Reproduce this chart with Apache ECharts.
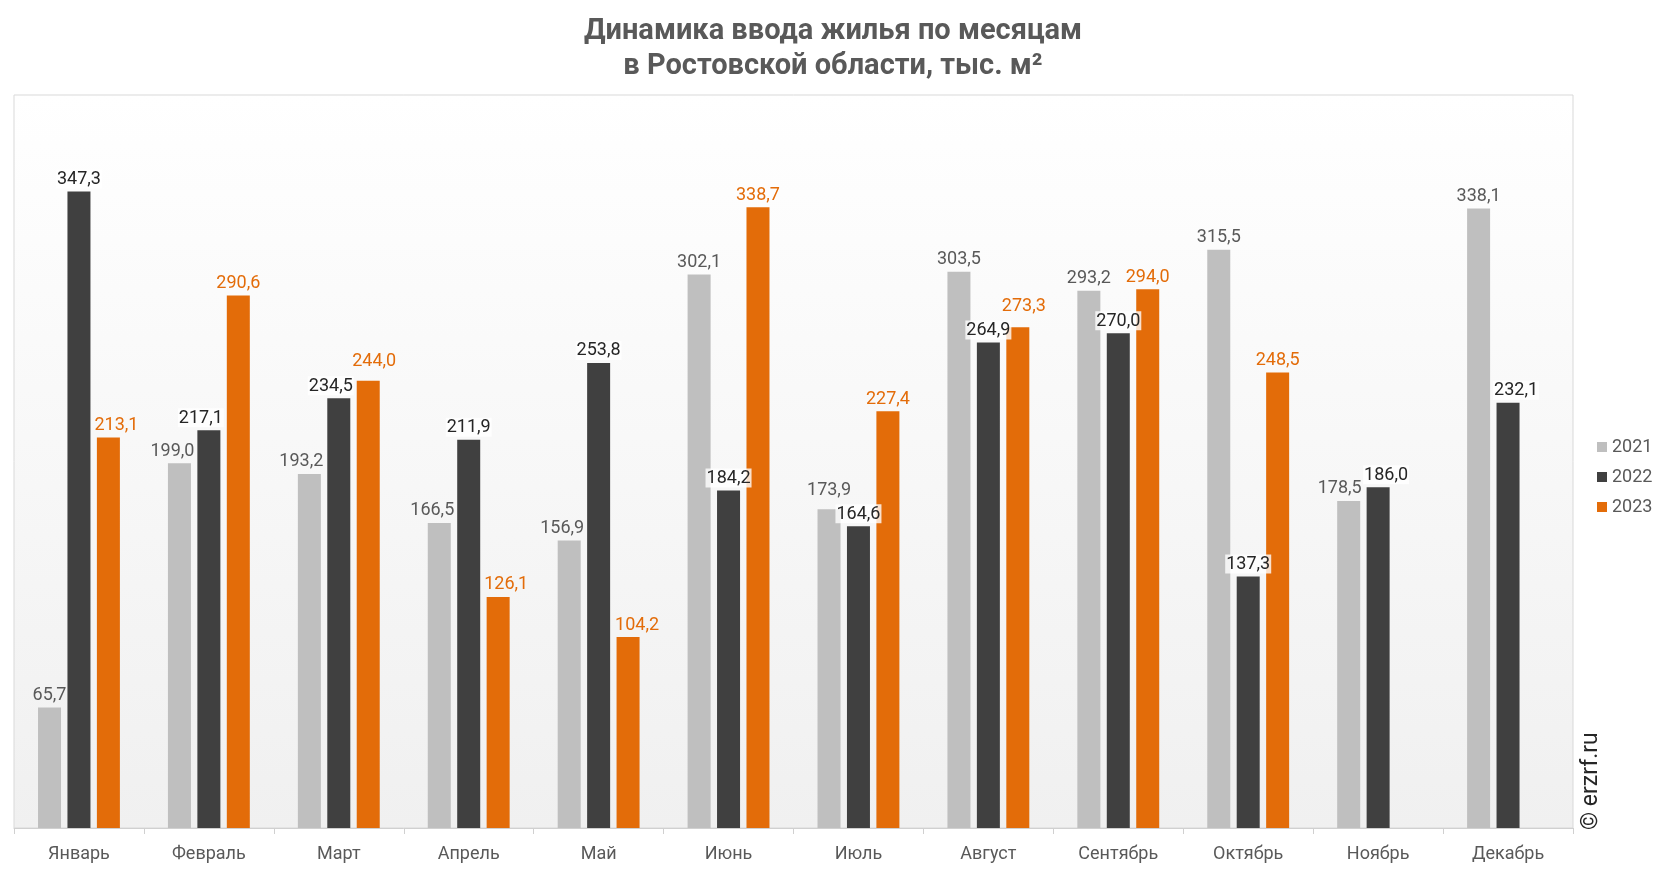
<!DOCTYPE html>
<html>
<head>
<meta charset="utf-8">
<script src="https://cdn.jsdelivr.net/npm/echarts@6/dist/echarts.min.js"></script>
<style>
  html, body { margin: 0; padding: 0; background: #fff; }
  #chart { width: 1666px; height: 872px; }
</style>
</head>
<body>
<div id="chart"></div>
<script>
  // месяцы и значения, тыс. м²
  const months = ['Январь', 'Февраль', 'Март', 'Апрель', 'Май', 'Июнь', 'Июль', 'Август', 'Сентябрь', 'Октябрь', 'Ноябрь', 'Декабрь']
  const years = ['2021', '2022', '2023']
  const data2021 = [65.7, 199.0, 193.2, 166.5, 156.9, 302.1, 173.9, 303.5, 293.2, 315.5, 178.5, 338.1]
  const data2022 = [347.3, 217.1, 234.5, 211.9, 253.8, 184.2, 164.6, 264.9, 270.0, 137.3, 186.0, 232.1]
  const data2023 = [213.1, 290.6, 244.0, 126.1, 104.2, 338.7, 227.4, 273.3, 294.0, 248.5, null, null]

  // ручные сдвиги подписей (как в исходнике), [dx, dy] в пикселях
  const nudge2021 = [[0, 0], [-7, 0], [-8, 0], [-7, 0], [-7, 0], [0, 0], [0, -7], [0, 0], [0, 0], [0, 0], [-9, 0], [0, 0]]
  const nudge2022 = [[0, 0], [-8, 0], [-8, 0], [0, 0], [0, 0], [0, 0], [0, 0], [0, 0], [0, 0], [0, 0], [8, 0], [8, 0]]
  const nudge2023 = [[8, 0], [0, 0], [6, -7], [8, 0], [9, 0], [0, 0], [0, 0], [6, -9], [0, 0], [0, 0], [0, 0], [0, 0]]

  const barColors = ['#bfbfbf', '#404040', '#e36c09']
  const labelColors = ['#595959', '#262626', '#e36c09']
  const font = 'Roboto, "Noto Sans", sans-serif'

  const fmt = p => p.value == null ? '' : p.value.toFixed(1).replace('.', ',')

  const makeSeries = (name, values, nudges, i, z) => ({
    name: name,
    type: 'bar',
    z: z,
    data: values,
    barWidth: 23,
    barGap: '28%',
    itemStyle: { color: barColors[i] },
    label: {
      show: true,
      position: 'top',
      distance: 3,
      formatter: fmt,
      color: labelColors[i],
      fontSize: 18,
      fontFamily: font,
      padding: [1, 1, 0, 1],
      backgroundColor: i === 1 ? 'rgba(255,255,255,0.8)' : 'transparent'
    },
    labelLayout: p => {
      const n = nudges[p.dataIndex] || [0, 0]
      return { dx: n[0], dy: n[1] }
    }
  })

  const chart = echarts.init(document.getElementById('chart'))
  chart.setOption({
    animation: false,
    backgroundColor: '#ffffff',
    title: {
      text: 'Динамика ввода жилья по месяцам\nв Ростовской области, тыс. м²',
      left: 'center',
      top: 9,
      textStyle: {
        fontFamily: font,
        fontSize: 29,
        fontWeight: 'bold',
        color: '#595959',
        lineHeight: 35
      }
    },
    legend: {
      data: years,
      orient: 'vertical',
      left: 1592,
      top: 433,
      icon: 'rect',
      itemWidth: 10,
      itemHeight: 10,
      itemGap: 12,
      textStyle: { fontFamily: font, fontSize: 18, color: '#595959' }
    },
    grid: {
      left: 14,
      right: 93,
      top: 95,
      bottom: 44,
      show: true,
      borderColor: '#d9d9d9',
      borderWidth: 1,
      backgroundColor: new echarts.graphic.LinearGradient(0, 0, 0, 1, [
        { offset: 0, color: '#ffffff' },
        { offset: 1, color: '#f0f0f0' }
      ])
    },
    xAxis: {
      type: 'category',
      data: months,
      axisLine: { lineStyle: { color: '#d0d0d0', width: 1 } },
      axisTick: { show: true, length: 6, lineStyle: { color: '#d0d0d0' } },
      axisLabel: { fontFamily: font, fontSize: 18, color: '#595959', margin: 17 }
    },
    yAxis: {
      type: 'value',
      min: 0,
      max: 400,
      show: false,
      splitLine: { show: false }
    },
    series: [
      makeSeries(years[0], data2021, nudge2021, 0, 2),
      makeSeries(years[1], data2022, nudge2022, 1, 2),
      makeSeries(years[2], data2023, nudge2023, 2, 1.5)
    ],
    graphic: [{
      type: 'text',
      x: 1591,
      y: 830,
      rotation: Math.PI / 2,
      style: {
        text: '© erzrf.ru',
        fontFamily: font,
        fontSize: 23,
        fill: '#262626',
        align: 'left',
        verticalAlign: 'middle'
      }
    }]
  })
</script>
</body>
</html>
